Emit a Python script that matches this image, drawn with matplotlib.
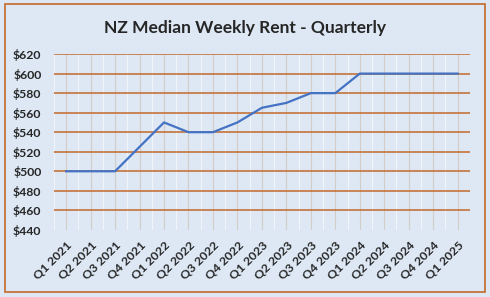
import numpy as np
import matplotlib.pyplot as plt
from matplotlib.patches import Rectangle

# 분기별 데이터
quarters = ['Q1 2021', 'Q2 2021', 'Q3 2021', 'Q4 2021',
            'Q1 2022', 'Q2 2022', 'Q3 2022', 'Q4 2022',
            'Q1 2023', 'Q2 2023', 'Q3 2023', 'Q4 2023',
            'Q1 2024', 'Q2 2024', 'Q3 2024', 'Q4 2024', 'Q1 2025']
rent = [500, 500, 500, 525, 550, 540, 540, 550, 565, 570, 580, 580,
        600, 600, 600, 600, 600]
y_ticks = [440, 460, 480, 500, 520, 540, 560, 580, 600, 620]

bg = '#DDE8F4'
orange = '#C4692A'
font = 'Lato'

fig = plt.figure(figsize=(4.9, 2.97), dpi=100, facecolor=bg)
ax = fig.add_axes([0.110, 0.226, 0.849, 0.592], facecolor=bg)

x = np.arange(len(quarters))

# 격자선
for xm in np.arange(-0.5, len(quarters), 1.0):
    ax.axvline(xm, color='#F2F6FA', lw=0.7, zorder=1)
for xv in x:
    ax.axvline(xv, color='#D4CCC6', lw=0.8, zorder=1)
for yv in y_ticks:
    if yv == 440:
        ax.axhline(yv, color='#E8EEF5', lw=0.8, zorder=2)
    else:
        ax.axhline(yv, color=orange, lw=1.1, zorder=2)

ax.plot(x, rent, color='#4472C4', lw=1.6, zorder=3)

ax.set_xlim(-0.5, len(quarters) - 0.5)
ax.set_ylim(440, 620)
ax.set_yticks(y_ticks)
ax.set_yticklabels(['$%d' % v for v in y_ticks])
ax.set_xticks(x)
ax.set_xticklabels(quarters, rotation=45, ha='right', rotation_mode='anchor')

for lab in ax.get_xticklabels() + ax.get_yticklabels():
    lab.set_fontweight('bold')
    lab.set_fontsize(8.8)
    lab.set_color('#262626')
    lab.set_family(font)
ax.tick_params(length=0, pad=9)
ax.tick_params(axis='x', pad=7)
for s in ax.spines.values():
    s.set_visible(False)

fig.text(0.5, 0.905, 'NZ Median Weekly Rent - Quarterly', ha='center', va='center',
         fontsize=12.5, fontweight='bold', color='#262626', family=font)

# 바깥 테두리
fig.patches.append(Rectangle((5 / 490, 1 - 292 / 297), 480 / 490, 288 / 297,
                             transform=fig.transFigure, fill=False,
                             edgecolor=orange, lw=1.2))

plt.savefig('out.png', dpi=100, facecolor=bg)
